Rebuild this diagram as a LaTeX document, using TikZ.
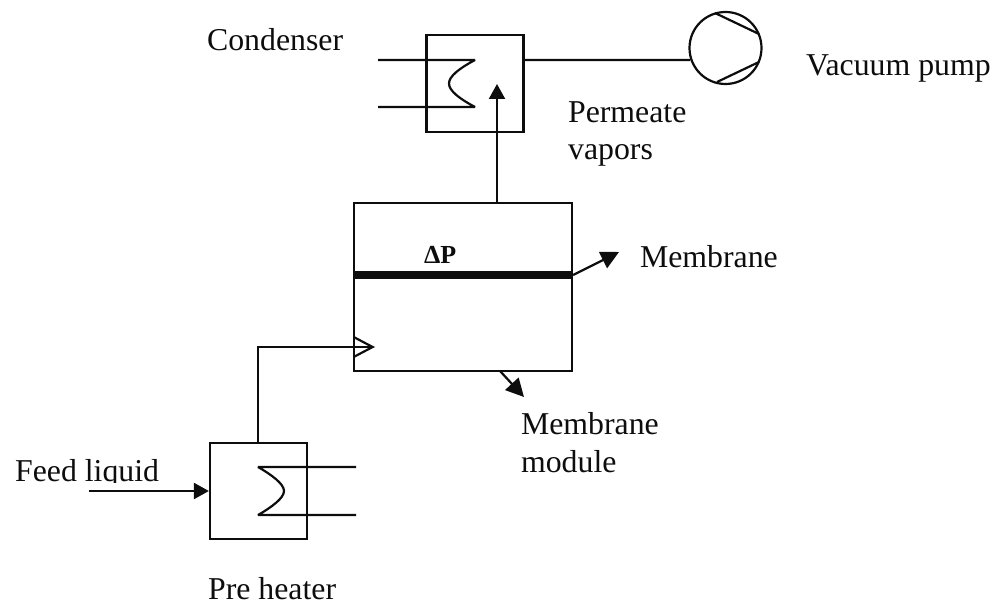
\documentclass[tikz,border=0pt]{standalone}
\usepackage{fontspec}
\setmainfont{Liberation Serif}
\usetikzlibrary{arrows.meta}
\definecolor{ink}{gray}{0.05}
\tikzset{
  x=1pt,y=-1pt,
  unitbox/.style={draw=ink,line width=2.2pt,rectangle,inner sep=0pt,minimum width=#1},
  label text/.style={anchor=base west,inner sep=0pt,text=ink,font=\fontsize{31.8}{38}\selectfont},
  solidarrow/.style={-{Triangle[length=15pt,width=16pt]}},
  bigarrow/.style={-{Triangle[length=18pt,width=18pt]}},
  openarrow/.style={-{Straight Barb[length=19pt,width=20pt,line width=2.2pt]}},
  coil/.style={line join=miter,miter limit=2}
}
\begin{document}
\begin{tikzpicture}[line width=2.2pt,color=ink]
\useasboundingbox (0,0) rectangle (998,604);
% units
\node[unitbox=97pt,minimum height=97pt] (cond) at (475,83.5) {};
\node[unitbox=218pt,minimum height=168pt] (module) at (463,287) {};
\node[unitbox=97pt,minimum height=96pt] (heater) at (258.5,491) {};
\node[circle,draw=ink,line width=2.2pt,minimum size=72pt,inner sep=0pt] (pump) at (725.5,48) {};
% pump chords
\coordinate (pa) at (715,13); \coordinate (pb) at (759,34);
\coordinate (pc) at (759,62); \coordinate (pd) at (717,82);
\draw (pa) -- (pb);
\draw (pc) -- (pd);
% condenser coil
\coordinate (ca) at (378,60); \coordinate (cb) at (475,60);
\coordinate (cc) at (475,107); \coordinate (cd) at (378,107);
\draw[coil] (ca) -- (cb) .. controls (460,68) and (449,76) .. (449,83.5) .. controls (449,91) and (460,99) .. (cc) -- (cd);
% heater coil
\coordinate (ha) at (356,467); \coordinate (hb) at (258,467);
\coordinate (hc) at (258,515); \coordinate (hd) at (356,515);
\draw[coil] (ha) -- (hb) .. controls (272,475) and (284,484) .. (284,491) .. controls (284,498) and (272,507) .. (hc) -- (hd);
% membrane
\coordinate (my) at (0,275);
\coordinate (ml) at (module.west |- my);
\coordinate (mr) at (module.east |- my);
\draw[line width=8.5pt] (ml) -- (mr);
% connectors
\draw (cond.east |- ca) -- (pump.199.5);
\coordinate (vaptip) at (497,84);
\draw[solidarrow] (vaptip |- module.north) -- (vaptip);
\coordinate (memtip) at (619,252);
\draw[bigarrow] (mr) -- (memtip);
\coordinate (modstart) at (500,371);
\coordinate (modtip) at (524,397);
\draw[bigarrow] (modstart) -- (modtip);
\coordinate (feedstart) at (89,491);
\draw[solidarrow] (feedstart) -- (heater.west);
\coordinate (inbend) at (258,347);
\coordinate (intip) at (375,347);
\draw[openarrow] (inbend |- heater.north) -- (inbend) -- (intip);
% labels
\node[label text] (lcond) at (206,51) {Condenser};
\node[label text] (lpump) at (805,76) {Vacuum pump};
\node[label text] (lperm) at (567,123) {Permeate};
\node[label text] (lvap) at (567,160) {vapors};
\node[label text,font=\fontsize{26}{30}\selectfont\bfseries] (ldp) at (423,263) {ΔP};
\node[label text] (lmem) at (639,267) {Membrane};
\node[label text] (lmod) at (520,434) {Membrane};
\node[label text] (lmod2) at (520,472) {module};
\begin{scope}
\clip (0,440) rectangle (200,482);
\node[label text] (lfeed) at (14,481) {Feed liquid};
\end{scope}
\node[label text] (lheat) at (207,599) {Pre heater};
\end{tikzpicture}
\end{document}
